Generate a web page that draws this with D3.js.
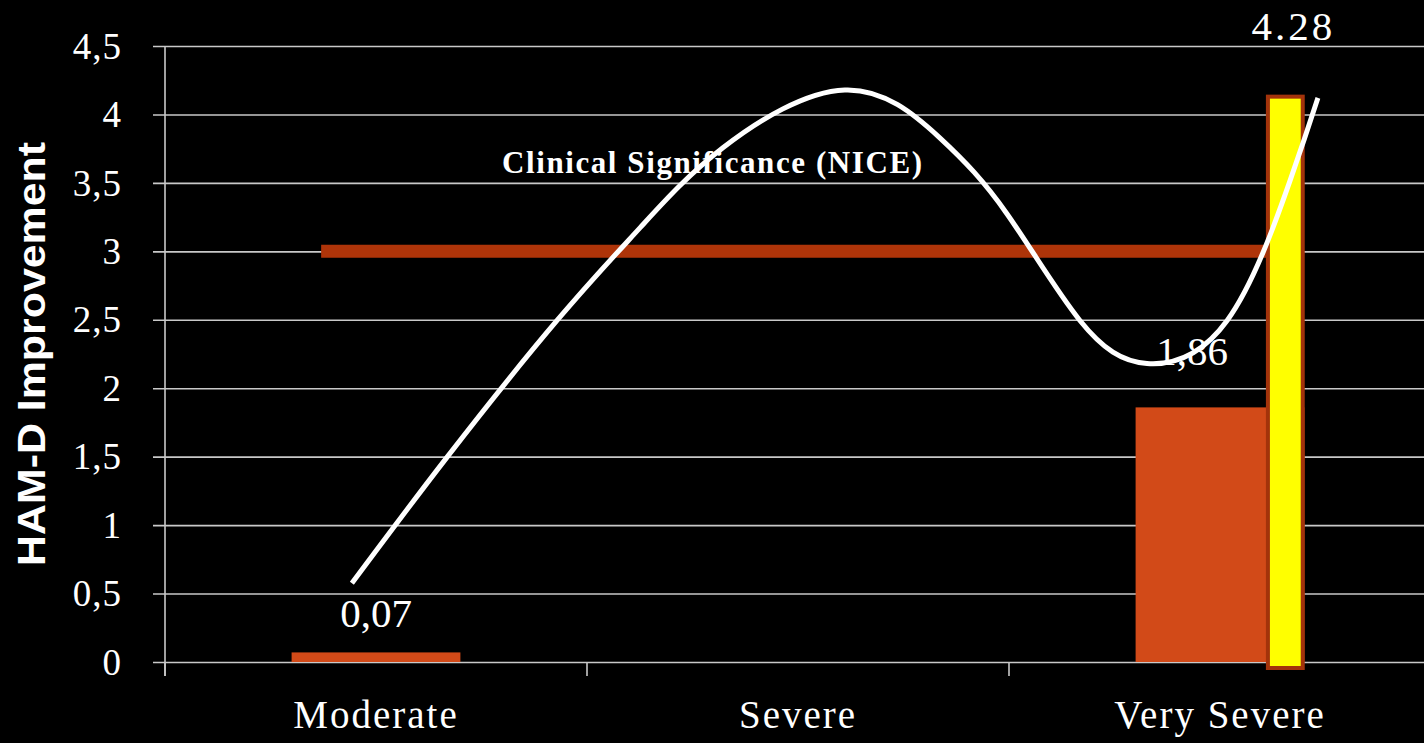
<!DOCTYPE html>
<html>
<head>
<meta charset="utf-8">
<script src="https://cdn.jsdelivr.net/npm/d3@7"></script>
<style>
  html, body { margin: 0; padding: 0; background: #000; }
  svg { display: block; }
</style>
</head>
<body>
<svg id="chart" width="1424" height="743"></svg>
<script>
// ---- data ----
const categories = ["Moderate", "Severe", "Very Severe"];
const barValues = [0.07, null, 1.86];
const barLabels = ["0,07", null, "1,86"];
const overlayCategory = "Very Severe";
const overlayValue = 4.13;
const overlayLabel = "4.28";
const thresholdValue = 3;
const thresholdLabel = "Clinical Significance (NICE)";
const thresholdFrom = -0.13;   // category-index position
const thresholdTo = 2.11;
const yTicks = [0, 0.5, 1, 1.5, 2, 2.5, 3, 3.5, 4, 4.5];
const yTickLabels = ["0", "0,5", "1", "1,5", "2", "2,5", "3", "3,5", "4", "4,5"];
const yTitle = "HAM-D Improvement";
// trend curve (x in category-index units, y in HAM-D units)
const curveX = [-0.057, 0.168, 0.429, 0.626, 0.822, 1.111, 1.336, 1.495, 1.668, 1.827, 2.017, 2.166, 2.232];
const curveY = [0.576, 1.495, 2.495, 3.173, 3.756, 4.179, 3.829, 3.275, 2.495, 2.181, 2.495, 3.516, 4.121];

// ---- layout ----
const W = 1424, H = 743;
const plotLeft = 165, plotRight = 1431, plotTop = 46, plotBottom = 662;
const svg = d3.select("#chart");
svg.append("rect").attr("width", W).attr("height", H).attr("fill", "#000");

const x = d3.scaleBand().domain(categories).range([plotLeft, plotRight])
  .paddingInner(0.6).paddingOuter(0.3);
const step = x.step();
const xIdx = d3.scaleLinear().domain([0, 2])
  .range([x(categories[0]) + x.bandwidth() / 2, x(categories[2]) + x.bandwidth() / 2]);
const y = d3.scaleLinear().domain([0, 4.5]).range([plotBottom, plotTop]);

const serif = "'Liberation Serif', 'Times New Roman', serif";
const gridColor = "#c9c9c9";

// gridlines + y axis
const yAxis = d3.axisLeft(y).tickValues(yTicks)
  .tickSize(-(W - plotLeft)).tickSizeOuter(0)
  .tickFormat((d, i) => yTickLabels[i]);
const gy = svg.append("g").attr("transform", `translate(${plotLeft},0)`).call(yAxis);
gy.select(".domain").remove();
gy.selectAll(".tick line").attr("stroke", gridColor).attr("stroke-width", 1.6)
  .attr("x1", -12);
gy.selectAll(".tick text").attr("fill", "#fff").attr("font-family", serif)
  .attr("font-size", 37).attr("x", -43).attr("dy", "0.33em")
  .attr("letter-spacing", "1px");

// vertical axis line
svg.append("line").attr("x1", plotLeft).attr("x2", plotLeft)
  .attr("y1", y(4.5)).attr("y2", plotBottom + 14)
  .attr("stroke", gridColor).attr("stroke-width", 1.6);

// x axis (ticks at band boundaries) + labels
const boundaries = categories.map((c, i) => plotLeft + i * step);
svg.append("g").selectAll("line").data(boundaries).join("line")
  .attr("x1", d => d).attr("x2", d => d)
  .attr("y1", plotBottom).attr("y2", plotBottom + 14)
  .attr("stroke", gridColor).attr("stroke-width", 1.6);
svg.append("g").selectAll("text").data(categories).join("text")
  .attr("x", d => x(d) + x.bandwidth() / 2)
  .attr("y", 728)
  .attr("text-anchor", "middle")
  .attr("fill", "#fff").attr("font-family", serif)
  .attr("font-size", 39).attr("letter-spacing", "2px")
  .text(d => d);

// y title
svg.append("text")
  .attr("transform", `translate(45,${(plotTop + plotBottom) / 2}) rotate(-90)`)
  .attr("text-anchor", "middle")
  .attr("fill", "#fff")
  .attr("font-family", "'Liberation Sans', Arial, sans-serif")
  .attr("font-weight", "bold").attr("font-size", 38)
  .attr("textLength", 424).attr("lengthAdjust", "spacingAndGlyphs")
  .text(yTitle);

// orange bars
const barData = categories.map((c, i) => ({ c, v: barValues[i], label: barLabels[i] }))
  .filter(d => d.v != null);
svg.append("g").selectAll("rect").data(barData).join("rect")
  .attr("x", d => x(d.c)).attr("width", x.bandwidth())
  .attr("y", d => y(d.v)).attr("height", d => y(0) - y(d.v))
  .attr("fill", "#d24a18");

// threshold line
svg.append("line")
  .attr("x1", xIdx(thresholdFrom)).attr("x2", xIdx(thresholdTo))
  .attr("y1", y(thresholdValue)).attr("y2", y(thresholdValue))
  .attr("stroke", "#ae3409").attr("stroke-width", 13);
svg.append("text")
  .attr("x", 502).attr("y", 173)
  .attr("fill", "#fff").attr("font-family", serif)
  .attr("font-weight", "bold").attr("font-size", 31)
  .attr("textLength", 420).attr("lengthAdjust", "spacing")
  .text(thresholdLabel);

// yellow overlay bar
const ox = x(overlayCategory) + x.bandwidth() * 0.772;
const ow = x.bandwidth() * 0.23;
svg.append("rect")
  .attr("x", ox + 2).attr("width", ow - 4)
  .attr("y", y(overlayValue)).attr("height", y(0) + 6 - y(overlayValue))
  .attr("fill", "#ffff00").attr("stroke", "#a3330b").attr("stroke-width", 4);

// value labels
const labelOffsets = { "Moderate": [0, -25], "Very Severe": [-28, -42] };
svg.append("g").selectAll("text").data(barData).join("text")
  .attr("x", d => x(d.c) + x.bandwidth() / 2 + labelOffsets[d.c][0])
  .attr("y", d => y(d.v) + labelOffsets[d.c][1])
  .attr("text-anchor", "middle")
  .attr("fill", "#fff").attr("font-family", serif).attr("font-size", 41)
  .text(d => d.label);
svg.append("text")
  .attr("x", ox + ow / 2 + 8).attr("y", 40)
  .attr("text-anchor", "middle")
  .attr("fill", "#fff").attr("font-family", serif).attr("font-size", 41)
  .attr("letter-spacing", "3px")
  .text(overlayLabel);

// trend curve
const pts = curveX.map((v, i) => [xIdx(v), y(curveY[i])]);
svg.append("path")
  .attr("d", d3.line().curve(d3.curveNatural)(pts))
  .attr("fill", "none").attr("stroke", "#fff").attr("stroke-width", 5);
</script>
</body>
</html>
